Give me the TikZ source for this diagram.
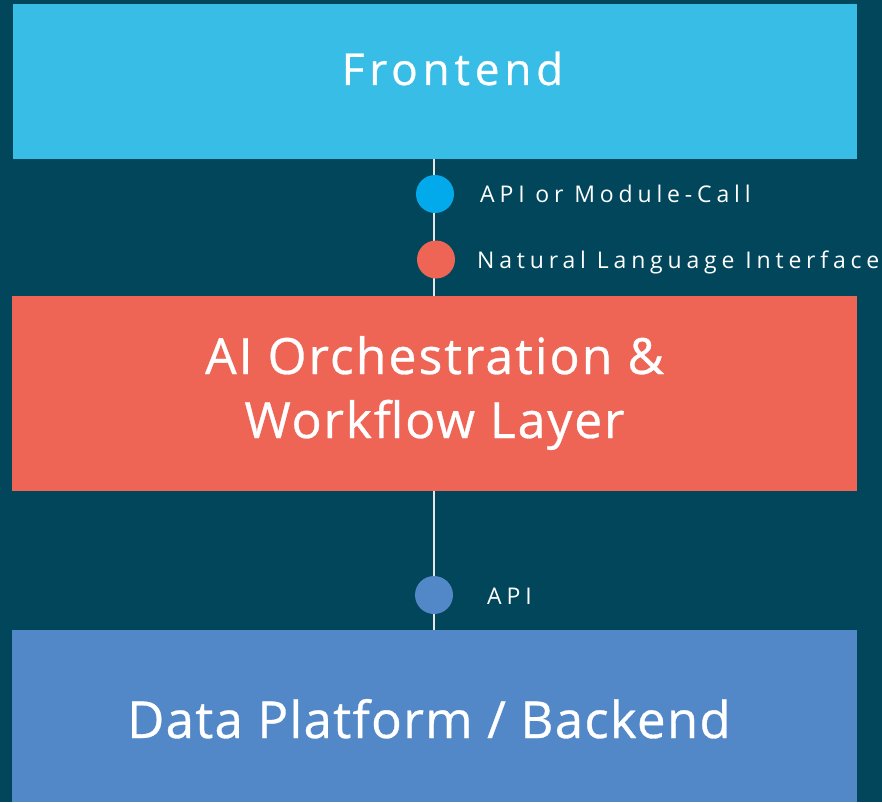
\documentclass[tikz,border=0pt]{standalone}
\usepackage{fontspec}
\setmainfont{Open Sans}
\definecolor{bgteal}{HTML}{01465A}
\definecolor{frontcol}{HTML}{38BDE6}
\definecolor{aicol}{HTML}{EE6556}
\definecolor{datacol}{HTML}{5288C7}
\definecolor{apicol}{HTML}{03AAEB}
\definecolor{wirecol}{HTML}{E6E6E6}
\begin{document}
\begin{tikzpicture}[x=1pt,y=-1pt,
  layer/.style={draw=none,inner sep=0pt,outer sep=0pt,anchor=north west},
  title/.style={text=white,inner sep=0pt,anchor=base},
  lbl/.style={text=white,inner sep=0pt,anchor=base west,
    font=\fontsize{23}{28}\selectfont\addfontfeature{LetterSpace=21}},
  dot/.style={circle,inner sep=0pt,minimum size=38pt},
  wire/.style={draw=wirecol,line width=2pt}]
% canvas
\fill[bgteal] (0,0) rectangle (882,802);
\useasboundingbox (0,0) rectangle (882,802);

% the three layers
\node[layer,fill=frontcol,minimum width=844pt,minimum height=155pt] (fe) at (13,4) {};
\node[layer,fill=aicol,minimum width=845pt,minimum height=194.5pt] (ai) at (12,296) {};
\node[layer,fill=datacol,minimum width=844.5pt,minimum height=172pt] (db) at (12,630) {};

% interface points
\coordinate (axis) at (434,0);
\draw[wire] (fe.south -| axis) -- (ai.north -| axis);
\draw[wire] (ai.south -| axis) -- (db.north -| axis);
\node[dot,fill=apicol] (p1) at (435,194) {};
\node[dot,fill=aicol] (p2) at (436,259.5) {};
\node[dot,fill=datacol] (p3) at (434,595) {};

% interface labels
\node[lbl] (l1) at (480,203) {API or Module-Call};
\node[lbl] (l2) at (477,268) {Natural Language Interface};
\node[lbl] (l3) at (487,604) {API};

% layer titles
\node[title,font=\fontsize{44}{52}\selectfont\addfontfeature{LetterSpace=11,FakeBold=0.6}] (t1) at (452.5,85) {Frontend};
\node[title,font=\fontsize{50}{60}\selectfont\addfontfeature{LetterSpace=4,FakeBold=0.6}] (t2) at (434.5,374) {AI Orchestration \&};
\node[title,font=\fontsize{50}{60}\selectfont\addfontfeature{LetterSpace=3.6,FakeBold=0.6}] (t3) at (434.5,438) {Workflow Layer};
\node[title,font=\fontsize{51}{60}\selectfont\addfontfeature{LetterSpace=2.5,FakeBold=0.6}] (t4) at (429,738) {Data Platform / Backend};
\end{tikzpicture}
\end{document}
